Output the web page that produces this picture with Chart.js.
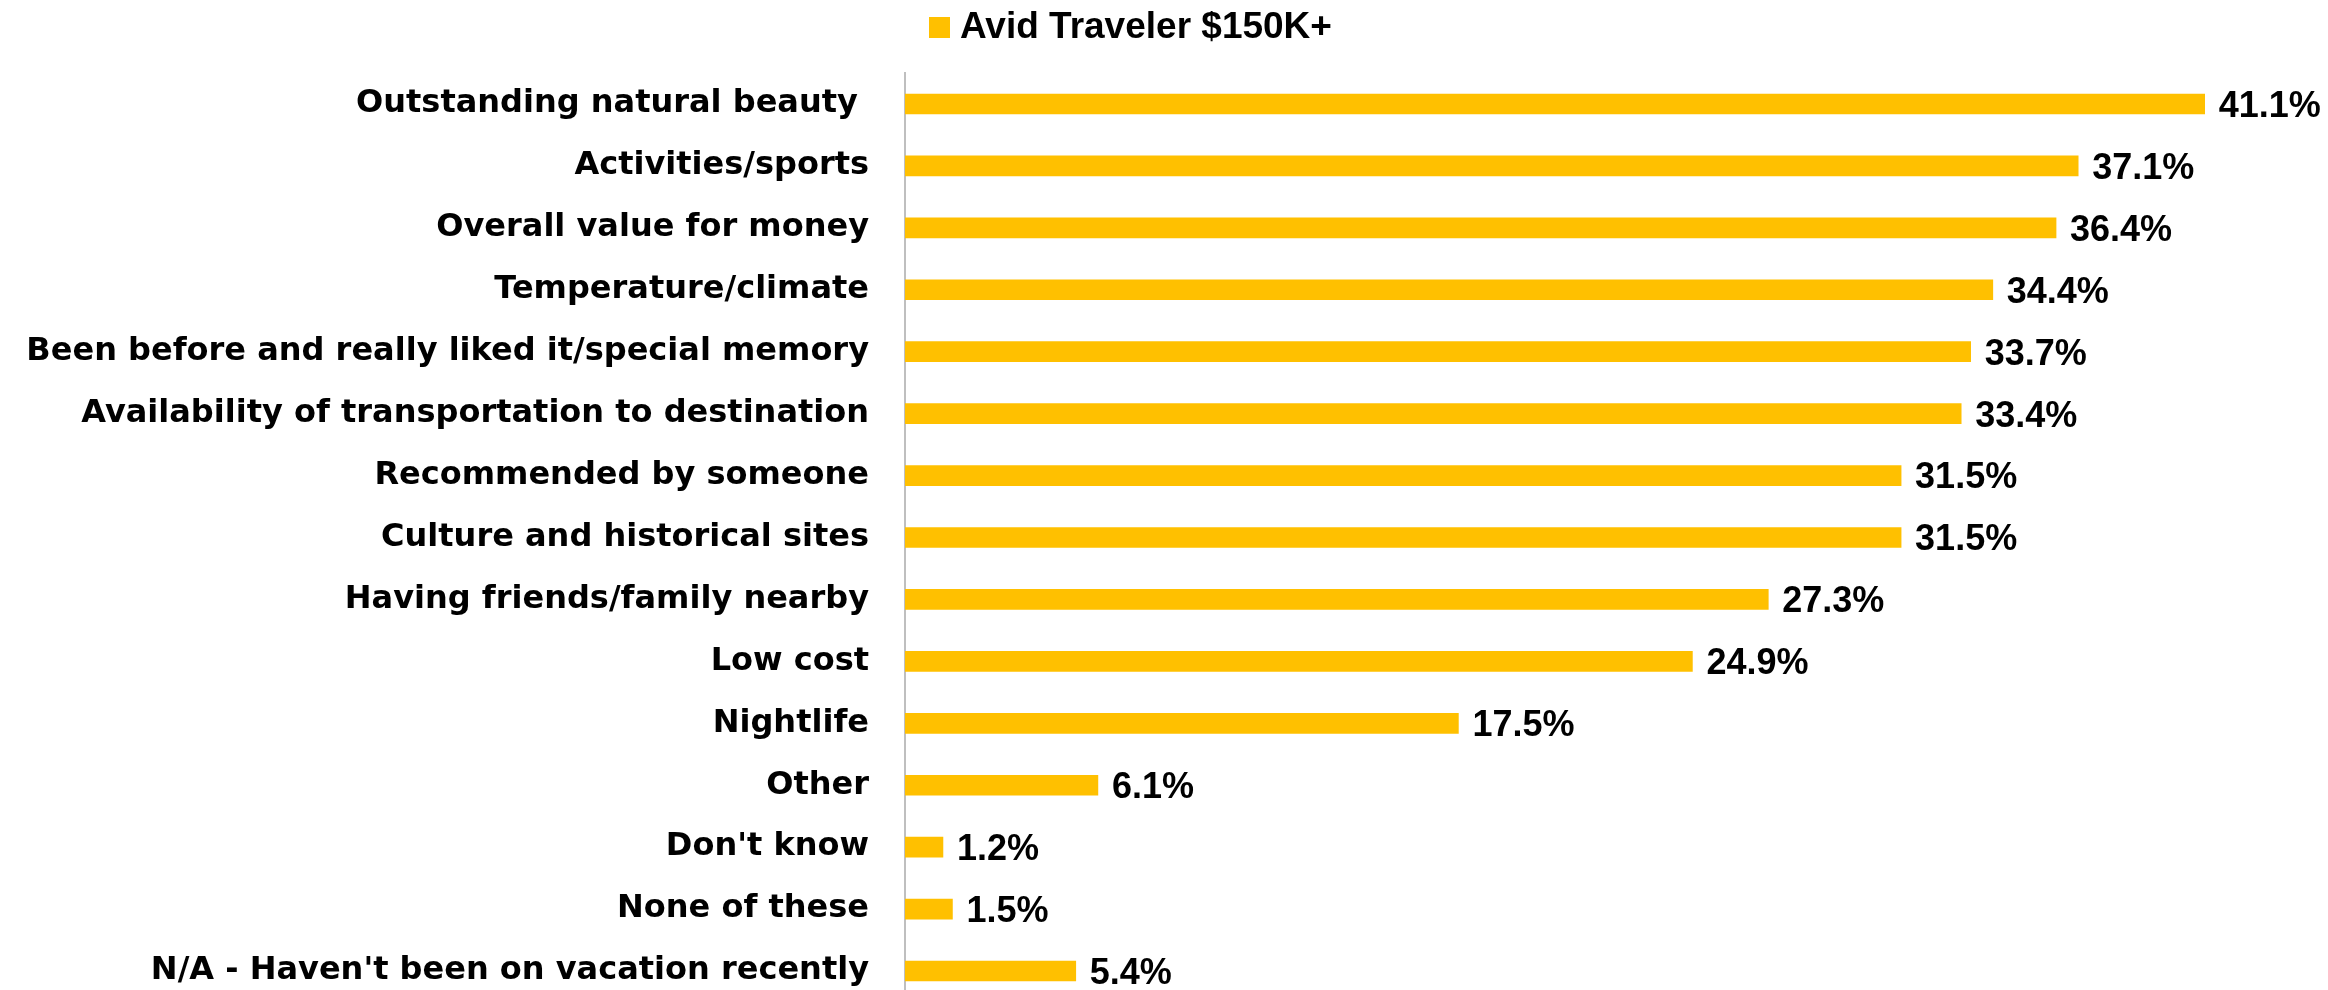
<!DOCTYPE html>
<html>
<head>
<meta charset="utf-8">
<script src="https://cdn.jsdelivr.net/npm/chart.js@4.4.1/dist/chart.umd.min.js"></script>
<style>
    html, body { margin: 0; padding: 0; background: #ffffff; overflow: hidden; }
    canvas { display: block; }
</style>
</head>
<body>
<canvas id="chart" width="2328" height="1010"></canvas>
<script>
// Reasons for choosing a vacation destination
const categories = [
    'Outstanding natural beauty ',
    'Activities/sports',
    'Overall value for money',
    'Temperature/climate',
    'Been before and really liked it/special memory',
    'Availability of transportation to destination',
    'Recommended by someone',
    'Culture and historical sites',
    'Having friends/family nearby',
    'Low cost',
    'Nightlife',
    'Other',
    "Don't know",
    'None of these',
    "N/A - Haven't been on vacation recently"
];
const seriesName = 'Avid Traveler $150K+';
const seriesValues = [41.1, 37.1, 36.4, 34.4, 33.7, 33.4, 31.5, 31.5, 27.3, 24.9, 17.5, 6.1, 1.2, 1.5, 5.4];

const GOLD = '#FFC000';
const LABEL_FONT = '"DejaVu Sans", Verdana, sans-serif';
const VALUE_FONT = '"Liberation Sans", Arial, sans-serif';

// value labels to the right of each bar
const valueLabels = {
    id: 'valueLabels',
    afterDatasetsDraw(chart) {
        const ctx = chart.ctx;
        const meta = chart.getDatasetMeta(0);
        ctx.save();
        ctx.font = 'bold 36px ' + VALUE_FONT;
        ctx.fillStyle = '#000000';
        ctx.textAlign = 'left';
        ctx.textBaseline = 'middle';
        meta.data.forEach((bar, i) => {
            const v = chart.data.datasets[0].data[i];
            ctx.fillText(v.toFixed(1) + '%', bar.x + 14, bar.y + 3);
        });
        ctx.restore();
    }
};

// single-entry legend above the plot
const topLegend = {
    id: 'topLegend',
    afterDraw(chart) {
        const ctx = chart.ctx;
        const ds = chart.data.datasets[0];
        ctx.save();
        ctx.fillStyle = ds.backgroundColor;
        ctx.fillRect(929, 17, 21, 21);
        ctx.font = 'bold 37px ' + VALUE_FONT;
        ctx.fillStyle = '#000000';
        ctx.textAlign = 'left';
        ctx.textBaseline = 'middle';
        ctx.fillText(ds.label, 960, 28);
        ctx.restore();
    }
};

new Chart(document.getElementById('chart'), {
    type: 'bar',
    data: {
        labels: categories,
        datasets: [{
            label: seriesName,
            data: seriesValues,
            backgroundColor: GOLD,
            borderWidth: 0,
            barThickness: 20
        }]
    },
    options: {
        indexAxis: 'y',
        responsive: false,
        animation: false,
        layout: { padding: { top: 73, right: 0, bottom: 8, left: 0 } },
        plugins: {
            legend: { display: false },
            tooltip: { enabled: false }
        },
        scales: {
            x: {
                display: false,
                min: 0,
                max: 45
            },
            y: {
                afterFit(scale) {
                    // fixed axis width; no extra room reserved for end labels
                    scale.width = 905;
                    scale.paddingTop = 0;
                    scale.paddingBottom = 0;
                },
                grid: { display: false, drawTicks: false },
                border: { display: true, color: '#bfbfbf', width: 2 },
                ticks: {
                    padding: 36,
                    color: '#000000',
                    font: { family: LABEL_FONT, size: 32, weight: 'bold' }
                }
            }
        }
    },
    plugins: [valueLabels, topLegend]
});
</script>
</body>
</html>
